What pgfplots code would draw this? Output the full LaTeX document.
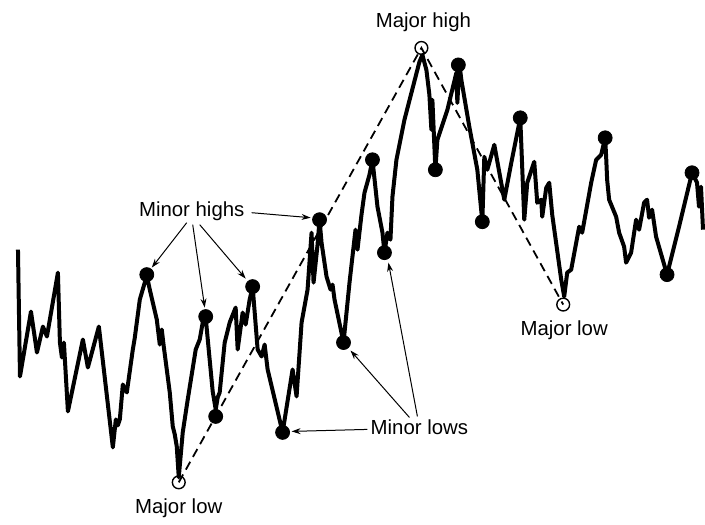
\documentclass[border=0pt]{standalone}
\usepackage{pgfplots}
\pgfplotsset{compat=1.18}
\usepackage{fontspec}
\setmainfont{Liberation Sans}
\usetikzlibrary{arrows.meta}

\begin{document}
\begin{tikzpicture}
\begin{axis}[
    scale only axis,
    width=352.5pt, height=259.5pt,
    xmin=0, xmax=705,
    ymin=0, ymax=519,
    y dir=reverse,
    hide axis,
    clip=false,
]
% invisible frame so the page keeps the picture's size
\path (rel axis cs:0,0) (rel axis cs:1,1);

% major trend lines
\addplot[black, line width=0.9pt, dash pattern=on 4.5pt off 2.8pt]
    coordinates {(179,483)(422,48)(564,305)};

% price
\addplot[black, line width=2pt, line join=round]
    coordinates {
    (18,250)(20,377)(31,312)(37,353)(43,327)(47,337)(58,273)(60,343)(62,358)(64,343)
    (68,412)(83,340)(88,368)(99,327)(113,448)(116,420)(118,426)(120,420)(123,385)(127,393)
    (133,350)(135,338)(140,300)(147,276)(150,290)(157,320)(160,345)(162,330)(164,347)(170,393)
    (173,427)(175,435)(177,447)(179,478)(183,433)(188,400)(192,375)(196,350)(200,340)(203,323)
    (206,318)(209,350)(213,392)(216,410)(218,398)(220,393)(225,343)(230,323)(236,308)(238,350)
    (243,313)(246,325)(250,300)(253,287)(258,350)(262,357)(265,345)(268,370)(283,433)(293,370)
    (297,397)(302,323)(308,290)(312,233)(314,283)(318,245)(320,220)(322,243)(327,277)(331,290)
    (333,285)(335,300)(344,343)(350,283)(356,230)(358,250)(362,215)(365,193)(370,175)(373,160)
    (378,207)(383,233)(385,253)(388,233)(391,240)(393,197)(397,160)(405,120)(420,62)(423,55)
    (427,70)(430,95)(432,130)(433,100)(436,170)(438,140)(448,110)(457,73)(458,103)(460,63)
    (462,80)(470,127)(478,170)(483,222)(485,157)(488,170)(495,145)(505,200)(512,163)(521,118)
    (525,220)(528,183)(535,162)(538,203)(542,200)(543,217)(547,188)(550,183)(553,215)(562,280)
    (565,297)(568,273)(572,270)(580,227)(583,233)(592,183)(597,160)(602,155)(606,138)(607,157)
    (608,180)(610,200)(617,217)(620,233)(625,247)(627,263)(632,253)(637,220)(640,230)(645,203)
    (648,200)(650,218)(653,210)(657,237)(668,275)(680,227)(693,173)(698,183)(700,207)(702,187)
    (704,230)
    };

% minor highs and lows
\addplot[only marks, mark=*, mark size=3.5pt, black]
    coordinates {
    (147,275)(206,317)(253,287)(216,417)(283,433)(320,220)(344,343)(373,160)
    (385,253)(436,170)(459,65)(483,222)(521,118)(606,138)(668,275)(693,173)
    };

% major highs and lows
\addplot[only marks, mark=o, mark size=3.2pt, line width=0.7pt, black,
    mark options={fill=white}]
    coordinates {(179,483)(422,48)(564,305)};

% labels
\node[font=\fontsize{10.2}{12}\selectfont] at (axis cs:424,22) {Major high};
\node[font=\fontsize{10.2}{12}\selectfont] at (axis cs:192,212) {Minor highs};
\node[font=\fontsize{10.2}{12}\selectfont] at (axis cs:420,428) {Minor lows};
\node[font=\fontsize{10.2}{12}\selectfont] at (axis cs:179,509) {Major low};
\node[font=\fontsize{10.2}{12}\selectfont] at (axis cs:565,331) {Major low};

% pointers
\begin{scope}[line width=0.5pt, -{Stealth[length=4.5pt,width=3pt]}]
\draw (axis cs:187,223) -- (axis cs:152,268);
\draw (axis cs:193,225) -- (axis cs:205,308);
\draw (axis cs:200,225) -- (axis cs:246,279);
\draw (axis cs:252,213) -- (axis cs:311,218);
\draw (axis cs:368,430) -- (axis cs:292,432);
\draw (axis cs:410,418) -- (axis cs:351,351);
\draw (axis cs:418,417) -- (axis cs:389,263);
\end{scope}
\end{axis}
\end{tikzpicture}
\end{document}
